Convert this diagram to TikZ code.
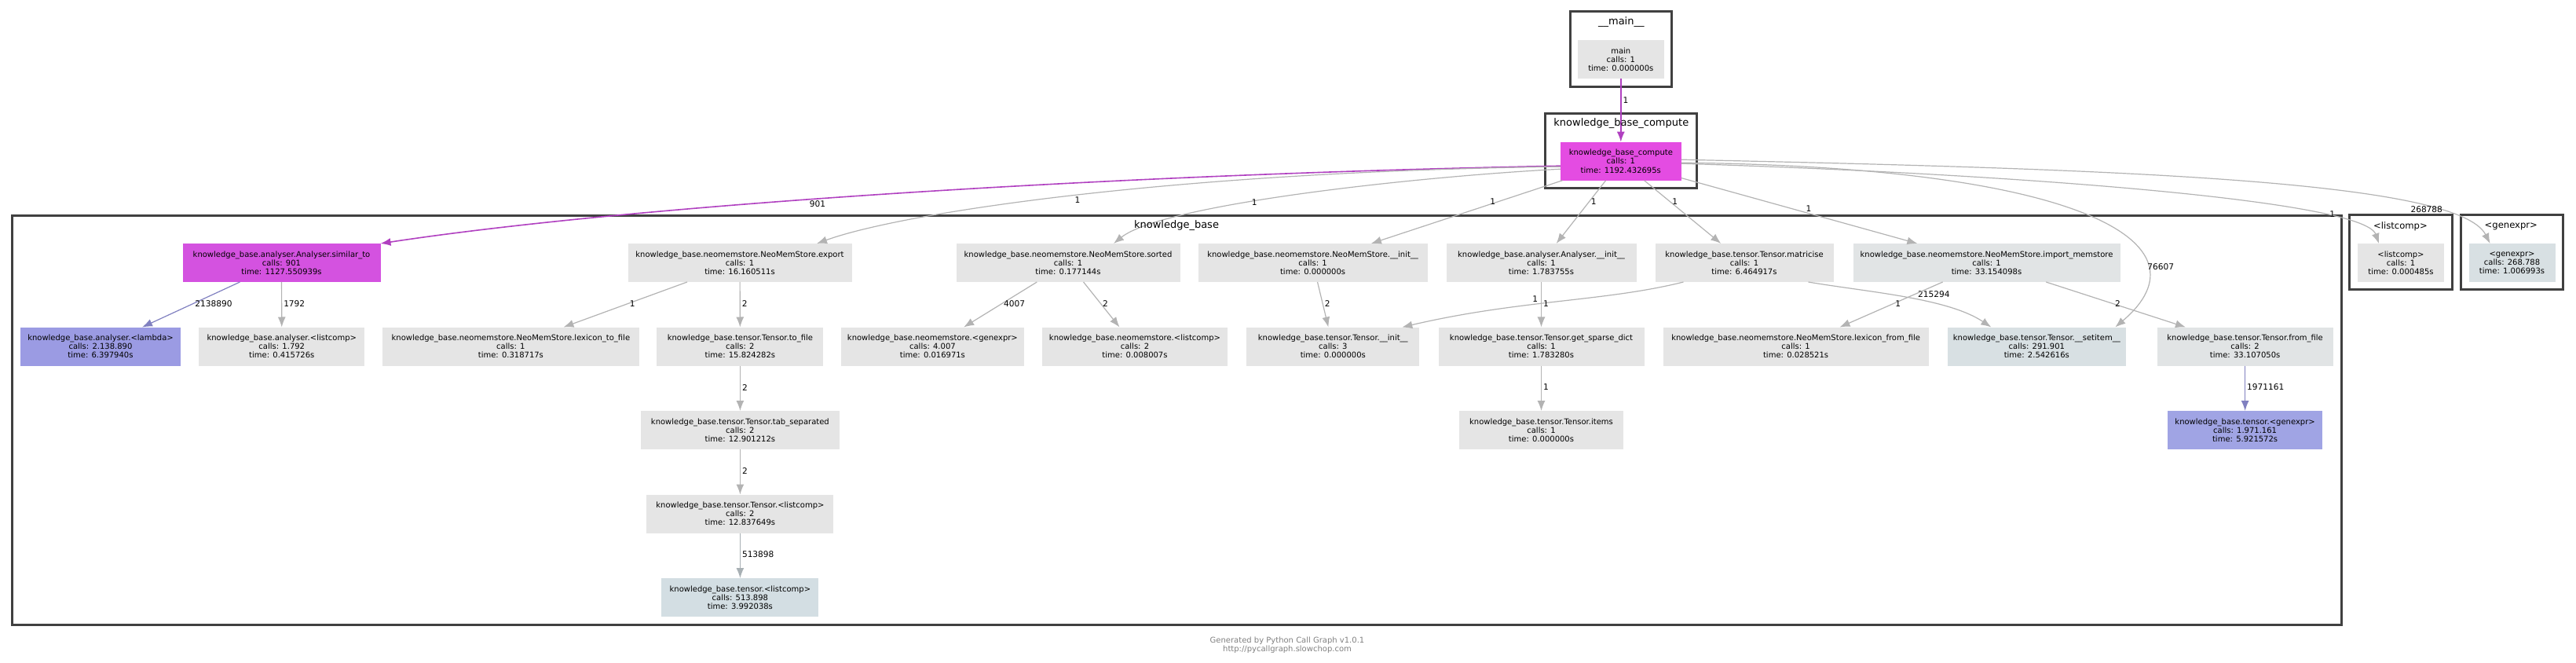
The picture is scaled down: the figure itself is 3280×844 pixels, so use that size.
\documentclass[tikz,border=0pt]{standalone}
\usepackage{fontspec}
\setmainfont{DejaVu Sans}
\usepackage{tikz}
\usetikzlibrary{backgrounds, fit}
\usetikzlibrary{positioning}
\usetikzlibrary{arrows.meta}
\definecolor{callgray}{RGB}{229,229,229}
\definecolor{coolgray}{RGB}{225,228,229}
\definecolor{bluegray}{RGB}{216,224,227}
\definecolor{paleblue}{RGB}{211,222,227}
\definecolor{lambdablue}{RGB}{155,155,227}
\definecolor{genblue}{RGB}{160,164,228}
\definecolor{simpink}{RGB}{212,82,224}
\definecolor{hotpink}{RGB}{228,76,226}
\definecolor{edgegray}{RGB}{179,179,179}
\definecolor{edgeslate}{RGB}{168,176,180}
\definecolor{edgepurple}{RGB}{176,64,192}
\definecolor{edgeblue}{RGB}{128,128,192}
\definecolor{framegray}{RGB}{64,64,64}
\definecolor{footgray}{rgb}{0.5,0.5,0.5}

\begin{document}
\begin{tikzpicture}[
            > = {Latex[length=6.5pt, width=5pt]}, % arrow head style
            x = 0.5pt, y = -0.5pt, % pixel grid
            node distance = 53.25pt, % distance between rows
            semithick % line style
        ]

        \tikzstyle{call}=[
            rectangle,
            fill = callgray,
            inner sep = 0pt,
            outer sep = 0pt,
            minimum height = 24.5pt,
            align = center,
            font = \fontsize{5}{5.6}\selectfont
        ]
        \tikzstyle{callcount}=[font = \fontsize{5.3}{6}\selectfont, text = black, inner sep = 1pt]
        \tikzstyle{callarrow}=[->, color = edgegray]
        \tikzstyle{hotarrow}=[->, color = edgepurple, thick]
        \tikzstyle{module}=[draw = framegray, line width = 1.5pt, inner sep = 0pt]
        \tikzstyle{modlabel}=[font = \fontsize{6.5}{7}\selectfont, inner sep = 0pt]

        \useasboundingbox (0,0) rectangle (3280,844);

        % entry point
        \node[call, minimum width = 55pt] (main) at (2063.8,75.8) {main\\calls: 1\\time: 0.000000s};
        \node[call, fill = hotpink, minimum width = 77pt] (comp) at (2063.8,205.2) {knowledge\_base\_compute\\calls: 1\\time: 1192.432695s};

        \path[hotarrow] (main) edge node[callcount, right, pos = .34] {1} (comp);

        % first level calls
        \node[call, fill = simpink, minimum width = 126pt] (simto) at (358.5,334.5) {knowledge\_base.analyser.Analyser.similar\_to\\calls: 901\\time: 1127.550939s};
        \node[call, minimum width = 142.5pt] (export) at (942,334.5) {knowledge\_base.neomemstore.NeoMemStore.export\\calls: 1\\time: 16.160511s};
        \node[call, minimum width = 142.5pt] (sorted) at (1360,334.5) {knowledge\_base.neomemstore.NeoMemStore.sorted\\calls: 1\\time: 0.177144s};
        \node[call, minimum width = 146pt] (nmsinit) at (1671.6,334.5) {knowledge\_base.neomemstore.NeoMemStore.\_\_init\_\_\\calls: 1\\time: 0.000000s};
        \node[call, minimum width = 121pt] (aninit) at (1962.5,334.5) {knowledge\_base.analyser.Analyser.\_\_init\_\_\\calls: 1\\time: 1.783755s};
        \node[call, minimum width = 113.5pt] (matricise) at (2221,334.5) {knowledge\_base.tensor.Tensor.matricise\\calls: 1\\time: 6.464917s};
        \node[call, fill = coolgray, minimum width = 170pt] (importms) at (2529.5,334.5) {knowledge\_base.neomemstore.NeoMemStore.import\_memstore\\calls: 1\\time: 33.154098s};
        \node[call, minimum width = 55pt] (lc) at (3057,334.5) {<listcomp>\\calls: 1\\time: 0.000485s};
        \node[call, fill = bluegray, minimum width = 55pt] (ge) at (3198.5,334.5) {<genexpr>\\calls: 268.788\\time: 1.006993s};

        \draw[hotarrow] ([yshift=-3pt]comp.west) .. controls +(-587,11) and +(316,-48) .. node[callcount, pos = .56, below] {901} (simto.north east);
        \draw[callarrow] ([yshift=-3.5pt]comp.west) .. controls +(-487,6) and +(110,-40) .. node[callcount, pos = .5, below] {1} ([xshift=49pt]export.north);
        \draw[callarrow] ([yshift=-5pt]comp.west) .. controls +(-187,10) and +(62,-50) .. node[callcount, pos = .6, right] {1} ([xshift=29pt]sorted.north);
        \path[callarrow] (comp) edge node[callcount, pos = .34, left] {1} (nmsinit);
        \path[callarrow] (comp) edge node[callcount, pos = .34, right] {1} (aninit);
        \path[callarrow] (comp) edge node[callcount, pos = .34, right] {1} (matricise);
        \path[callarrow] (comp) edge node[callcount, pos = .54, above] {1} (importms);
        \draw[callarrow] ([yshift=-1.5pt]comp.east) .. controls +(420,13) and +(-19,-55) .. node[callcount, pos = .8, above] {1} ([xshift=-14pt]lc.north);
        \draw[callarrow] ([yshift=1pt]comp.east) .. controls +(560,12) and +(-40,-80) .. node[callcount, pos = .82, above left] {268788} ([xshift=-14pt]ge.north);

        % second level calls
        \node[call, fill = lambdablue, minimum width = 102pt] (lambda) at (128,441) {knowledge\_base.analyser.<lambda>\\calls: 2.138.890\\time: 6.397940s};
        \node[call, minimum width = 105.5pt] (alc) at (358.8,441) {knowledge\_base.analyser.<listcomp>\\calls: 1.792\\time: 0.415726s};
        \node[call, minimum width = 163.5pt] (l2f) at (650.4,441) {knowledge\_base.neomemstore.NeoMemStore.lexicon\_to\_file\\calls: 1\\time: 0.318717s};
        \node[call, minimum width = 106pt] (tofile) at (942.4,441) {knowledge\_base.tensor.Tensor.to\_file\\calls: 2\\time: 15.824282s};
        \node[call, minimum width = 116.5pt] (nge) at (1187.4,441) {knowledge\_base.neomemstore.<genexpr>\\calls: 4.007\\time: 0.016971s};
        \node[call, minimum width = 118pt] (nlc) at (1445,441) {knowledge\_base.neomemstore.<listcomp>\\calls: 2\\time: 0.008007s};
        \node[call, minimum width = 110pt] (tinit) at (1697.3,441) {knowledge\_base.tensor.Tensor.\_\_init\_\_\\calls: 3\\time: 0.000000s};
        \node[call, minimum width = 131pt] (gsd) at (1962.5,441) {knowledge\_base.tensor.Tensor.get\_sparse\_dict\\calls: 1\\time: 1.783280s};
        \node[call, minimum width = 169pt] (lff) at (2286.6,441) {knowledge\_base.neomemstore.NeoMemStore.lexicon\_from\_file\\calls: 1\\time: 0.028521s};
        \node[call, fill = bluegray, minimum width = 113.5pt] (setitem) at (2593.3,441) {knowledge\_base.tensor.Tensor.\_\_setitem\_\_\\calls: 291.901\\time: 2.542616s};
        \node[call, fill = coolgray, minimum width = 112pt] (fromfile) at (2858.6,441) {knowledge\_base.tensor.Tensor.from\_file\\calls: 2\\time: 33.107050s};

        \draw[callarrow] ([yshift=-1pt]comp.east) .. controls +(509,5) and +(126,-107) .. node[callcount, pos = .75, right] {76607} ([xshift=50pt]setitem.north);
        \path[callarrow, color = edgeblue] (simto) edge node[callcount, pos = .48, right] {2138890} (lambda);
        \path[callarrow] (simto) edge node[callcount, pos = .48, right] {1792} (alc);
        \path[callarrow] (export) edge node[callcount, pos = .48, right] {1} (l2f);
        \path[callarrow] (export) edge node[callcount, pos = .48, right] {2} (tofile);
        \path[callarrow] (sorted) edge node[callcount, pos = .48, right] {4007} (nge);
        \path[callarrow] (sorted) edge node[callcount, pos = .48, right] {2} (nlc);
        \path[callarrow] (nmsinit) edge node[callcount, pos = .48, right] {2} (tinit);
        \draw[callarrow] ([xshift=18pt]matricise.south west) .. controls +(-100,25) and +(150,-35) .. node[callcount, pos = .58, above] {1} ([xshift=-11pt]tinit.north east);
        \path[callarrow] (aninit) edge node[callcount, pos = .48, right] {1} (gsd);
        \draw[callarrow] ([xshift=-16pt]matricise.south east) .. controls +(77,13) and +(-55,-37) .. node[callcount, pos = .55, above right] {215294} ([xshift=-29pt]setitem.north);
        \path[callarrow] (importms) edge node[callcount, pos = .48, right] {1} (lff);
        \path[callarrow] (importms) edge node[callcount, pos = .48, right] {2} (fromfile);

        % deeper calls
        \node[call, minimum width = 126.5pt] (tabsep) [below of = tofile] {knowledge\_base.tensor.Tensor.tab\_separated\\calls: 2\\time: 12.901212s};
        \node[call, minimum width = 119pt] (tlc) [below of = tabsep] {knowledge\_base.tensor.Tensor.<listcomp>\\calls: 2\\time: 12.837649s};
        \node[call, fill = paleblue, minimum width = 100pt] (tlc2) [below of = tlc] {knowledge\_base.tensor.<listcomp>\\calls: 513.898\\time: 3.992038s};
        \node[call, minimum width = 104.5pt] (items) [below of = gsd] {knowledge\_base.tensor.Tensor.items\\calls: 1\\time: 0.000000s};
        \node[call, fill = genblue, minimum width = 98.5pt] (tge) [below of = fromfile] {knowledge\_base.tensor.<genexpr>\\calls: 1.971.161\\time: 5.921572s};

        \path[callarrow] (tofile) edge node[callcount, pos = .48, right] {2} (tabsep);
        \path[callarrow] (tabsep) edge node[callcount, pos = .48, right] {2} (tlc);
        \path[callarrow, color = edgeslate] (tlc) edge node[callcount, pos = .48, right] {513898} (tlc2);
        \path[callarrow] (gsd) edge node[callcount, pos = .48, right] {1} (items);
        \path[callarrow, color = edgeblue] (fromfile) edge node[callcount, pos = .48, right] {1971161} (tge);

        % module labels
        \node[modlabel] (mainlab) at (2064.3,28.3) {\_\_main\_\_};
        \node[modlabel] (complab) at (2064.3,156.7) {knowledge\_base\_compute};
        \node[modlabel] (kblab) at (1498,286.7) {knowledge\_base};
        \node[modlabel, font = \fontsize{5.8}{7}\selectfont] (lclab) at (3056.4,288.3) {<listcomp>};
        \node[modlabel, font = \fontsize{5.8}{7}\selectfont] (gelab) at (3197.3,288.3) {<genexpr>};

        \node[font = \fontsize{5}{5.5}\selectfont, text = footgray, align = center, inner sep = 0pt] (credit) at (1639,821.5) {Generated by Python Call Graph v1.0.1\\http://pycallgraph.slowchop.com};

   \begin{scope}[on background layer]
   \node[module, minimum width = 64.75pt, minimum height = 47.85pt] (mainmod) at (2063.75,62.85) {};
   \node[module, minimum width = 96.75pt, minimum height = 47.5pt] (compmod) at (2063.75,192.5) {};
   \node[module, minimum width = 1482.9pt, minimum height = 260.35pt] (kbmod) at (1498.6,534.65) {};
   \node[module, minimum width = 65.35pt, minimum height = 47.5pt] (lcmod) at (3057.05,321.5) {};
   \node[module, minimum width = 65.05pt, minimum height = 47.5pt] (gemod) at (3198.25,321.5) {};
  \end{scope}

  \end{tikzpicture}
\end{document}
